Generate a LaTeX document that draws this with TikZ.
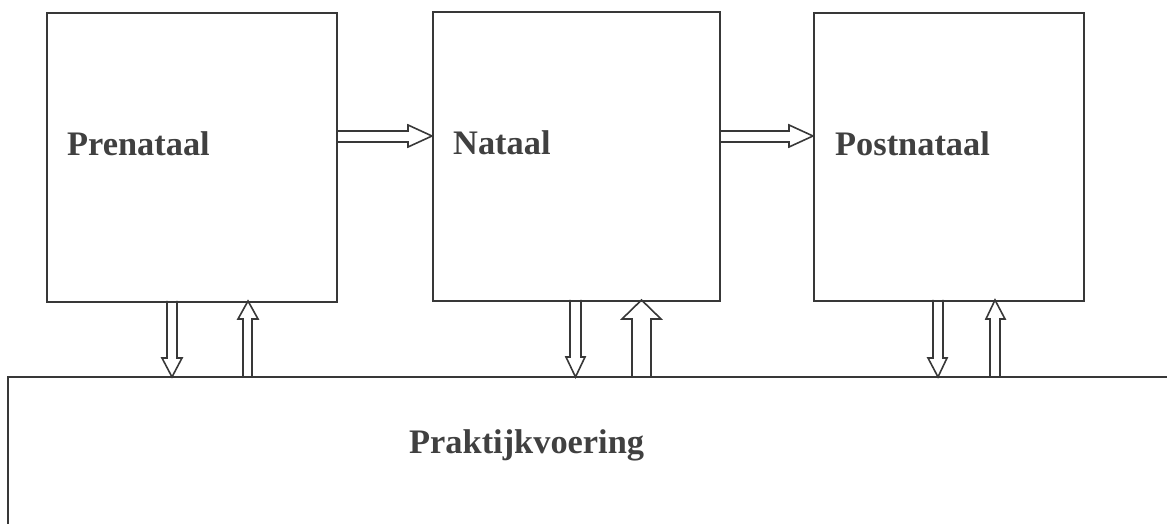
\documentclass[tikz,border=0pt]{standalone}
\usepackage{fontspec}
\setmainfont{Liberation Serif}
\begin{document}
\begin{tikzpicture}[x=1bp,y=-1bp,
  ink/.style={draw=black!78, line width=1.6bp},
  phasebox/.style={ink, rectangle, anchor=north west, inner sep=0pt},
  label/.style={anchor=base west, inner sep=0pt, text=black!75,
    font=\bfseries\fontsize{34.5}{40}\selectfont},
  blockarrow/.style={ink, line join=miter}]
\useasboundingbox (0,0) rectangle (1167,524);

% three phase boxes
\node[phasebox, minimum width=290bp, minimum height=289bp] (pre)  at (46,12)  {};
\node[phasebox, minimum width=287bp, minimum height=289bp] (nat)  at (432,11) {};
\node[phasebox, minimum width=270bp, minimum height=288bp] (post) at (813,12) {};

% practice area: only top and left edges are visible
\coordinate (prakTL) at (8,377);
\coordinate (prakTR) at (1167,377);
\coordinate (prakBL) at (8,524);
\draw[ink] (prakTR) -- (prakTL) -- (prakBL);

% labels
\node[label] (lpre)  at (67,156)  {Prenataal};
\node[label] (lnat)  at (453,155) {Nataal};
\node[label] (lpost) at (835,156) {Postnataal};
\node[label] (lprak) at (409,453) {Praktijkvoering};

% horizontal block arrows between the phases
\draw[blockarrow] (336,131) -- (408,131) -- (408,125) -- (nat.west |- 0,136)
  -- (408,147) -- (408,142) -- (336,142);
\draw[blockarrow] (719,131) -- (789,131) -- (789,125) -- (post.west |- 0,136)
  -- (789,147) -- (789,142) -- (719,142);

% vertical block arrows: phase -> practice (down) and back (up)
\draw[blockarrow] (167,301) -- (167,358) -- (162,358) -- (172,377)
  -- (182,358) -- (177,358) -- (177,301);
\draw[blockarrow] (243,377) -- (243,319) -- (238,319) -- (248,301)
  -- (258,319) -- (252,319) -- (252,377);

\draw[blockarrow] (570,300) -- (570,357) -- (566,357) -- (575.5,377)
  -- (585,357) -- (581,357) -- (581,300);
\draw[blockarrow] (632,377) -- (632,319) -- (622,319) -- (641.5,300)
  -- (661,319) -- (651,319) -- (651,377);

\draw[blockarrow] (933,300) -- (933,358) -- (928,358) -- (938,377)
  -- (947,358) -- (943,358) -- (943,300);
\draw[blockarrow] (990,377) -- (990,319) -- (986,319) -- (995,300)
  -- (1005,319) -- (1000,319) -- (1000,377);
\end{tikzpicture}
\end{document}
